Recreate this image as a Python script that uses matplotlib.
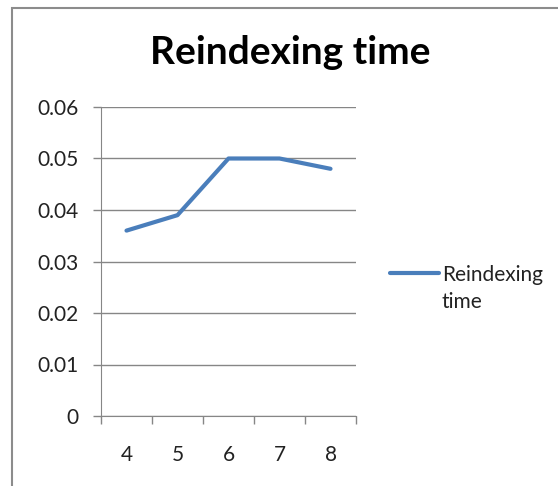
import numpy as np
import matplotlib.pyplot as plt
from matplotlib.patches import Rectangle
from matplotlib.lines import Line2D

categories = ["4", "5", "6", "7", "8"]
reindex_time = [0.036, 0.039, 0.050, 0.050, 0.048]
y_ticks = [0, 0.01, 0.02, 0.03, 0.04, 0.05, 0.06]
y_labels = ["0", "0.01", "0.02", "0.03", "0.04", "0.05", "0.06"]
series_label = ["Reindexing", "time"]

plt.rcParams['font.family'] = ['Lato', 'DejaVu Sans']
grid_col = '#868686'
line_col = '#4A7EBB'
text_col = '#222222'
W, H = 558, 486

def fx(px):
    return px / W

def fy(px):
    return 1 - px / H

fig = plt.figure(figsize=(5.58, 4.86), dpi=100)
fig.patches.append(Rectangle((fx(12), -0.1), 1.2, fy(8) + 0.1,
                             transform=fig.transFigure, fill=False,
                             edgecolor='#8c8c8c', linewidth=1.5))

ax = fig.add_axes([fx(101), fy(416), 255 / W, 309 / H])
x = np.arange(len(categories))
ax.plot(x, reindex_time, color=line_col, linewidth=3, solid_capstyle='round',
        solid_joinstyle='round')

ax.set_xlim(-0.5, len(categories) - 0.5)
ax.set_ylim(0, 0.06)
ax.set_yticks(y_ticks)
ax.set_yticklabels(y_labels)
ax.yaxis.grid(True, color=grid_col, linewidth=1)
ax.set_axisbelow(True)

# category boundaries carry the tick marks, labels sit at the centres
ax.set_xticks(np.arange(len(categories) + 1) - 0.5)
ax.set_xticklabels([])
ax.set_xticks(x, minor=True)
ax.set_xticklabels(categories, minor=True)
ax.tick_params(axis='x', which='major', length=6, color=grid_col, width=1)
ax.tick_params(axis='x', which='minor', length=0, pad=21, labelsize=15, labelcolor=text_col)
ax.tick_params(axis='y', length=6, color=grid_col, width=1, pad=10, labelsize=15, labelcolor=text_col)

for side in ['top', 'right']:
    ax.spines[side].set_visible(False)
for side in ['left', 'bottom']:
    ax.spines[side].set_color(grid_col)

fig.text(fx(290), fy(53), "Reindexing time", ha='center', va='center',
         fontsize=28, fontweight='bold', color='black')

# legend: swatch sits beside the first line of the wrapped label
fig.add_artist(Line2D([fx(390), fx(439)], [fy(273), fy(273)], transform=fig.transFigure,
                      color=line_col, linewidth=3, solid_capstyle='round'))
for i, word in enumerate(series_label):
    fig.text(fx(442), fy(281 + 27 * i), word, ha='left', va='baseline',
             fontsize=15, color=text_col)

fig.savefig('out.png', dpi=100)
